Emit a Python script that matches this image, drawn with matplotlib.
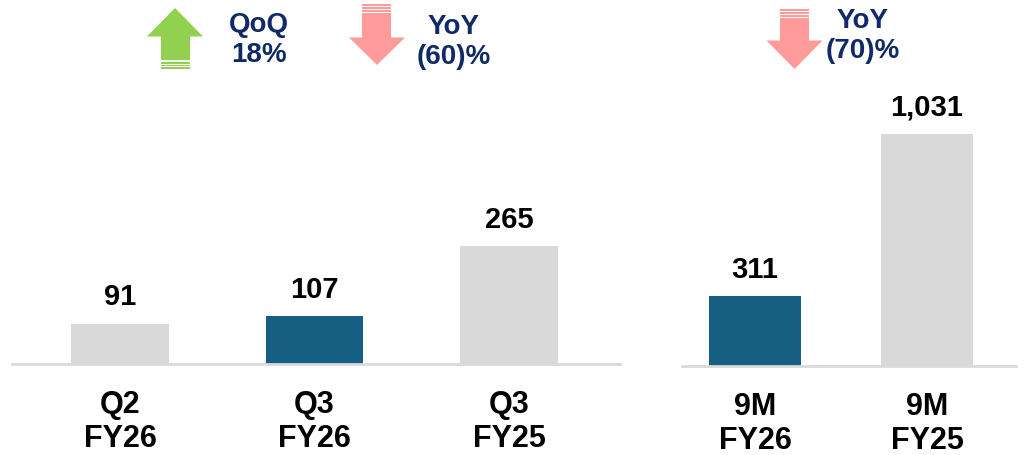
import matplotlib

matplotlib.use("Agg")
import matplotlib.pyplot as plt
from matplotlib.patches import Polygon, Rectangle

plt.rcParams["font.family"] = ["Liberation Sans", "DejaVu Sans"]
plt.rcParams["font.weight"] = "bold"

# quarterly panel
q_labels = ["Q2\nFY26", "Q3\nFY26", "Q3\nFY25"]
q_values = [91, 107, 265]
q_colors = ["#d9d9d9", "#175f82", "#d9d9d9"]

# nine-month panel
m_labels = ["9M\nFY26", "9M\nFY25"]
m_values = [311, 1031]
m_colors = ["#175f82", "#d9d9d9"]

# change callouts
qoq_text = "QoQ\n18%"
yoy_q_text = "YoY\n(60)%"
yoy_m_text = "YoY\n(70)%"

NAVY = "#0f2a66"
GREEN = "#92d050"
PINK = "#ff9b9b"
W, H = 1025, 455

fig = plt.figure(figsize=(W / 100, H / 100), dpi=100)


def px_axes(x0, x1, y_base, height):
    # pixel box (top-left origin) -> figure fraction
    return fig.add_axes([x0 / W, (H - y_base) / H, (x1 - x0) / W, height / H])


def style(ax, labels):
    for s in ["top", "right", "left"]:
        ax.spines[s].set_visible(False)
    ax.spines["bottom"].set_color("#d9d9d9")
    ax.spines["bottom"].set_linewidth(2)
    ax.set_yticks([])
    ax.set_xticks(range(len(labels)))
    ax.set_xticklabels(labels, fontsize=22, fontweight="bold", linespacing=1.17)
    ax.tick_params(axis="x", length=0, pad=19)


def bar_panel(ax, values, colors, width, fmt):
    x = range(len(values))
    bars = ax.bar(x, values, width=width, color=colors, zorder=2)
    for b, v in zip(bars, values):
        ax.annotate(fmt.format(v), (b.get_x() + b.get_width() / 2, v),
                    xytext=(0, 9), textcoords="offset points",
                    ha="center", va="bottom", fontsize=21, fontweight="bold",
                    annotation_clip=False)


ax1 = px_axes(12, 620, 364, 267)
bar_panel(ax1, q_values, q_colors, 0.5, "{:,}")
ax1.set_xlim(-0.555, 2.57)
ax1.set_ylim(0, 600)
style(ax1, q_labels)

ax2 = px_axes(682, 1016, 366, 281)
bar_panel(ax2, m_values, m_colors, 0.535, "{:,}")
ax2.set_xlim(-0.424, 1.517)
ax2.set_ylim(0, 1250)
style(ax2, m_labels)

# overlay for the arrow callouts, in pixel units
ov = fig.add_axes([0, 0, 1, 1])
ov.set_xlim(0, W)
ov.set_ylim(H, 0)
ov.axis("off")


def up_arrow(xl, xr, apex, head_base, sl, sr, shaft_end, stripes, color):
    ov.add_patch(Polygon([(xl, head_base), ((xl + xr) / 2, apex), (xr, head_base),
                          (sr, head_base), (sr, shaft_end), (sl, shaft_end),
                          (sl, head_base)], closed=True, color=color, lw=0))
    for y in stripes:
        ov.add_patch(Rectangle((sl, y), sr - sl, 1.8, color=color, lw=0))


up_arrow(147, 203, 8, 36.5, 161, 190, 60, [61.8, 64.6, 67.2], GREEN)
# down arrows: same shape mirrored
up_arrow(349, 405, 65, 37.5, 362, 391, 13, [4.2, 7.2, 10], PINK)
up_arrow(766.5, 822.5, 69, 40.5, 780, 809, 18, [9, 12, 15], PINK)

for txt, x, y in [(qoq_text, 259, 40), (yoy_q_text, 454, 42), (yoy_m_text, 863, 36)]:
    ov.text(x, y, txt, ha="center", va="center", fontsize=20,
            fontweight="bold", color=NAVY, linespacing=1.25)

fig.savefig("out.png", dpi=100)
